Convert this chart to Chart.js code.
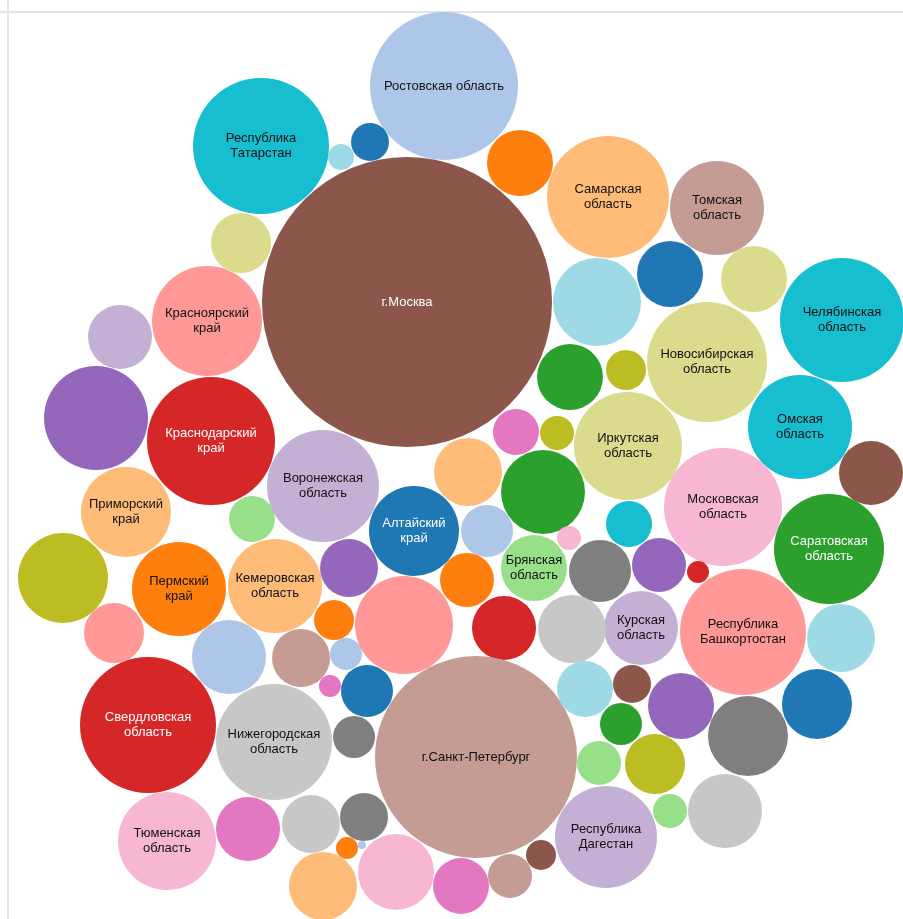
<!DOCTYPE html>
<html>
<head>
<meta charset="utf-8">
<script src="https://cdn.jsdelivr.net/npm/chart.js@4"></script>
<style>
  body { margin: 0; background: #fff; }
  #wrap { position: relative; width: 903px; height: 919px; }
  .rule-h { position: absolute; left: 0; top: 11px; width: 903px; height: 2px; background: #e4e4e4; }
  .rule-v { position: absolute; left: 7px; top: 0; width: 2px; height: 919px; background: #e4e4e4; }
  canvas { position: absolute; left: 0; top: 0; }
</style>
</head>
<body>
<div id="wrap">
  <div class="rule-h"></div>
  <div class="rule-v"></div>
  <canvas id="bubbles" width="903" height="919"></canvas>
</div>
<script>
// regions (empty label = no text on the bubble)
var regions = [
  "Ростовская область", "Республика\nТатарстан", "г.Москва", "", "",
  "", "Самарская\nобласть", "Томская\nобласть", "", "",
  "", "Челябинская\nобласть", "", "Красноярский\nкрай", "",
  "", "Краснодарский\nкрай", "Приморский\nкрай", "", "Воронежская\nобласть",
  "", "Пермский\nкрай", "Кемеровская\nобласть", "Алтайский\nкрай", "",
  "", "", "", "", "",
  "", "", "Брянская\nобласть", "", "",
  "Новосибирская\nобласть", "Иркутская\nобласть", "Омская\nобласть", "", "Московская\nобласть",
  "", "Саратовская\nобласть", "", "", "",
  "Республика\nБашкортостан", "", "Курская\nобласть", "", "",
  "", "", "", "", "",
  "", "", "", "г.Санкт-Петербург", "",
  "Нижегородская\nобласть", "Свердловская\nобласть", "Тюменская\nобласть", "", "",
  "", "", "", "", "",
  "", "", "", "Республика\nДагестан", "",
  "", "", "", "", "",
  "", "", "", ""
];

// bubble centres and radii
var bubbleX = [
  444, 261, 407, 341, 370,
  520, 608, 717, 670, 754,
  597, 842, 241, 207, 120,
  96, 211, 126, 252, 323,
  63, 179, 275, 414, 349,
  468, 487, 516, 557, 570,
  543, 569, 534, 467, 626,
  707, 628, 800, 871, 723,
  629, 829, 600, 659, 698,
  743, 841, 641, 572, 504,
  404, 334, 301, 346, 229,
  114, 330, 367, 476, 354,
  274, 148, 167, 248, 311,
  364, 347, 362, 323, 396,
  461, 510, 541, 606, 599,
  585, 632, 621, 681, 655,
  748, 817, 670, 725
];
var bubbleY = [
  86, 146, 302, 157, 142,
  163, 197, 208, 274, 279,
  302, 320, 243, 321, 337,
  418, 441, 512, 519, 486,
  578, 589, 586, 531, 568,
  472, 531, 432, 433, 377,
  492, 538, 568, 580, 370,
  362, 446, 427, 473, 507,
  524, 549, 571, 565, 572,
  632, 638, 628, 629, 628,
  625, 620, 658, 654, 657,
  633, 686, 691, 757, 737,
  742, 725, 841, 829, 824,
  817, 848, 845, 886, 872,
  886, 876, 855, 837, 763,
  689, 684, 724, 706, 764,
  736, 704, 811, 811
];
var bubbleR = [
  74, 68, 145, 13, 19,
  33, 61, 47, 33, 33,
  44, 62, 30, 55, 32,
  52, 64, 45, 23, 56,
  45, 47, 47, 45, 29,
  34, 26, 23, 17, 33,
  42, 12, 33, 27, 20,
  60, 54, 52, 32, 59,
  23, 55, 31, 27, 11,
  63, 34, 37, 34, 32,
  49, 20, 29, 16, 37,
  30, 11, 26, 101, 21,
  58, 68, 49, 32, 29,
  24, 11, 4, 34, 38,
  28, 22, 15, 51, 22,
  28, 19, 21, 33, 30,
  40, 35, 17, 37
];

var palette = {
  blue: "#1f77b4", lblue: "#aec7e8", orange: "#ff7f0e", lorange: "#ffbb78",
  green: "#2ca02c", lgreen: "#98df8a", red: "#d62728", lred: "#ff9896",
  purple: "#9467bd", lpurple: "#c5b0d5", brown: "#8c564b", lbrown: "#c49c94",
  pink: "#e377c2", lpink: "#f7b6d2", gray: "#7f7f7f", lgray: "#c7c7c7",
  olive: "#bcbd22", lolive: "#dbdb8d", cyan: "#17becf", lcyan: "#9edae5"
};
var colorNames = [
  "lblue", "cyan", "brown", "lcyan", "blue",
  "orange", "lorange", "lbrown", "blue", "lolive",
  "lcyan", "cyan", "lolive", "lred", "lpurple",
  "purple", "red", "lorange", "lgreen", "lpurple",
  "olive", "orange", "lorange", "blue", "purple",
  "lorange", "lblue", "pink", "olive", "green",
  "green", "lpink", "lgreen", "orange", "olive",
  "lolive", "lolive", "cyan", "brown", "lpink",
  "cyan", "green", "gray", "purple", "red",
  "lred", "lcyan", "lpurple", "lgray", "red",
  "lred", "orange", "lbrown", "lblue", "lblue",
  "lred", "pink", "blue", "lbrown", "gray",
  "lgray", "red", "lpink", "pink", "lgray",
  "gray", "orange", "lblue", "lorange", "lpink",
  "pink", "lbrown", "brown", "lpurple", "lgreen",
  "lcyan", "brown", "green", "purple", "olive",
  "gray", "blue", "lgreen", "lgray"
];
var lightText = ["brown", "red", "blue", "green"];

var labelPlugin = {
  id: "bubbleLabels",
  afterDatasetsDraw: function(chart) {
    var ctx = chart.ctx;
    var meta = chart.getDatasetMeta(0);
    ctx.save();
    ctx.font = "13px 'Liberation Sans', Arial, sans-serif";
    ctx.textAlign = "center";
    ctx.textBaseline = "middle";
    meta.data.forEach(function(el, i) {
      if (!regions[i]) return;
      var lines = regions[i].split("\n");
      ctx.fillStyle = lightText.indexOf(colorNames[i]) >= 0 ? "#ffffff" : "#111111";
      var top = el.y - (lines.length - 1) * 7.5;
      lines.forEach(function(line, k) {
        ctx.fillText(line, el.x, top + k * 15);
      });
    });
    ctx.restore();
  }
};

new Chart(document.getElementById("bubbles"), {
  type: "bubble",
  data: {
    datasets: [{
      data: bubbleX.map(function(x, i) {
        return { x: x, y: bubbleY[i], r: bubbleR[i] };
      }),
      backgroundColor: colorNames.map(function(c) { return palette[c]; }),
      borderWidth: 0,
      hoverBorderWidth: 0,
      clip: false
    }]
  },
  options: {
    responsive: false,
    animation: false,
    layout: { padding: 0, autoPadding: false },
    plugins: {
      legend: { display: false },
      tooltip: { enabled: false }
    },
    scales: {
      x: { type: "linear", min: 0, max: 903, display: false },
      y: { type: "linear", min: 0, max: 919, reverse: true, display: false }
    }
  },
  plugins: [labelPlugin]
});
</script>
</body>
</html>
